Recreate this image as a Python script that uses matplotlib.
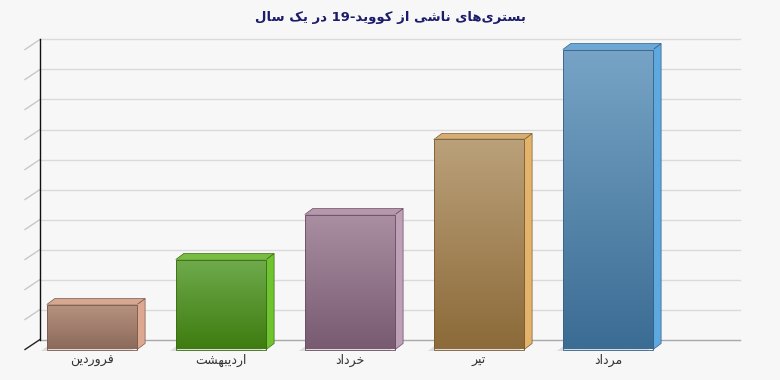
import re
import numpy as np
import matplotlib.pyplot as plt
from matplotlib.patches import Polygon, Rectangle
from matplotlib.colors import LinearSegmentedColormap
from matplotlib.transforms import offset_copy

title = 'بستری‌های ناشی از کووید-19 در یک سال'
months = ['فروردین', 'اردیبهشت', 'خرداد', 'تیر', 'مرداد']
values = [1500, 3000, 4500, 7000, 10000]
y_max = 10000
y_step = 1000

front_top = ['#b6927f', '#6fab4c', '#a98fa1', '#bba17a', '#77a4c6']
front_bot = ['#8c6a5b', '#3e7c10', '#785a71', '#8c6a39', '#3b6c93']
edge_cols = ['#7a5a4c', '#3a6b14', '#6a4d63', '#7a5c30', '#35608a']
side_cols = ['#dca88f', '#6ec42e', '#bda0b5', '#e3b36c', '#5ea8e0']
top_cols = ['#d6a791', '#78bd40', '#b598ab', '#d8ad72', '#6ba8d6']

# --- minimal persian shaping (matplotlib has no bidi / joining) ---
FORMS = {  # isolated, final, initial, medial
    'ا': (0xFE8D, 0xFE8E, None, None),
    'د': (0xFEA9, 0xFEAA, None, None),
    'ر': (0xFEAD, 0xFEAE, None, None),
    'ز': (0xFEAF, 0xFEB0, None, None),
    'و': (0xFEED, 0xFEEE, None, None),
    'ب': (0xFE8F, 0xFE90, 0xFE91, 0xFE92),
    'ت': (0xFE95, 0xFE96, 0xFE97, 0xFE98),
    'خ': (0xFEA5, 0xFEA6, 0xFEA7, 0xFEA8),
    'س': (0xFEB1, 0xFEB2, 0xFEB3, 0xFEB4),
    'ش': (0xFEB5, 0xFEB6, 0xFEB7, 0xFEB8),
    'ف': (0xFED1, 0xFED2, 0xFED3, 0xFED4),
    'ل': (0xFEDD, 0xFEDE, 0xFEDF, 0xFEE0),
    'م': (0xFEE1, 0xFEE2, 0xFEE3, 0xFEE4),
    'ن': (0xFEE5, 0xFEE6, 0xFEE7, 0xFEE8),
    'ه': (0xFEE9, 0xFEEA, 0xFEEB, 0xFEEC),
    'ی': (0xFBFC, 0xFBFD, 0xFBFE, 0xFBFF),
    'ک': (0xFB8E, 0xFB8F, 0xFB90, 0xFB91),
}


def dual(c):
    return c in FORMS and FORMS[c][2] is not None


def fa(text):
    out = []
    for i, ch in enumerate(text):
        if ch not in FORMS:
            if ch != '\u200c':
                out.append(ch)
            continue
        prev = text[i - 1] if i > 0 else ''
        nxt = text[i + 1] if i + 1 < len(text) else ''
        jp = dual(prev)
        jn = dual(ch) and nxt in FORMS
        iso, fin, ini, med = FORMS[ch]
        if jp and jn:
            code = med
        elif jp:
            code = fin
        elif jn:
            code = ini
        else:
            code = iso
        out.append(chr(code))
    tokens = re.findall(r'[0-9]+|.', ''.join(out))
    return ''.join(tokens[::-1])


plt.rcParams['font.family'] = ['DejaVu Sans']

fig = plt.figure(figsize=(7.8, 3.8), dpi=100)
fig.patch.set_facecolor('#f7f7f7')
ax = fig.add_axes([25 / 780, 30.5 / 380, 700 / 780, 300 / 380])
ax.set_xlim(-0.519, -0.519 + 700 / 129)
ax.set_ylim(0, y_max)
ax.axis('off')

px_x = 1 / 129
px_y = y_max / 300
wall_dx, wall_dy = 15 * px_x, 10 * px_y
bar_dx, bar_dy = 8 * px_x, 6 * px_y
x0, x1 = ax.get_xlim()

# back wall grid
for v in np.arange(0, y_max + 1, y_step):
    col = '#a8a8a8' if v == 0 else '#dadada'
    ax.plot([x0 + wall_dx, x1 + wall_dx], [v + wall_dy, v + wall_dy],
            color=col, lw=1, clip_on=False, zorder=1)
    tick_col = '#222222' if v == 0 else '#c8c8c8'
    ax.plot([x0, x0 + wall_dx], [v, v + wall_dy], color=tick_col, lw=1,
            clip_on=False, zorder=1)
ax.plot([x0 + wall_dx] * 2, [wall_dy, y_max + wall_dy], color='#111111',
        lw=1, clip_on=False, zorder=2)

w = 0.7
for i, (v, m) in enumerate(zip(values, months)):
    l, r = i - w / 2, i + w / 2
    # floor shadow
    sx, sy = -6 * px_x, -1.5 * px_y
    ax.add_patch(Polygon([(l + sx, sy), (r + sx, sy), (r + bar_dx + sx, bar_dy + sy),
                          (l + bar_dx + sx, bar_dy + sy)], closed=True,
                         fc='#dcdcdc', ec='none', clip_on=False, zorder=2))
    # side face
    ax.add_patch(Polygon([(r, 0), (r + bar_dx, bar_dy), (r + bar_dx, v + bar_dy), (r, v)],
                         closed=True, fc=side_cols[i], ec=edge_cols[i], lw=0.5,
                         clip_on=False, zorder=3))
    # top face
    ax.add_patch(Polygon([(l, v), (r, v), (r + bar_dx, v + bar_dy), (l + bar_dx, v + bar_dy)],
                         closed=True, fc=top_cols[i], ec=edge_cols[i], lw=0.5,
                         clip_on=False, zorder=3))
    # front face with gradient
    cmap = LinearSegmentedColormap.from_list('g%d' % i, [front_bot[i], front_top[i]])
    grad = np.linspace(0, 1, 256).reshape(-1, 1)
    ax.imshow(grad, cmap=cmap, extent=[l, r, 0, v], origin='lower',
              aspect='auto', zorder=4, clip_on=False, interpolation='bilinear')
    ax.add_patch(Rectangle((l, 0), w, v, fc='none', ec=edge_cols[i], lw=0.6,
                           clip_on=False, zorder=5))
    lab_tr = offset_copy(ax.transData, fig=fig, x=0, y=-3, units='points')
    ax.text(i, 0, fa(m), transform=lab_tr, ha='center', va='top',
            fontsize=9, color='#333333')

ax.set_xlim(x0, x1)
ax.set_ylim(0, y_max)

fig.text(0.5, 1 - 17 / 380, fa(title), ha='center', va='center',
         fontsize=9.5, fontweight='bold', color='#1c1c6b')

fig.savefig('out.png', dpi=100, facecolor=fig.get_facecolor())
